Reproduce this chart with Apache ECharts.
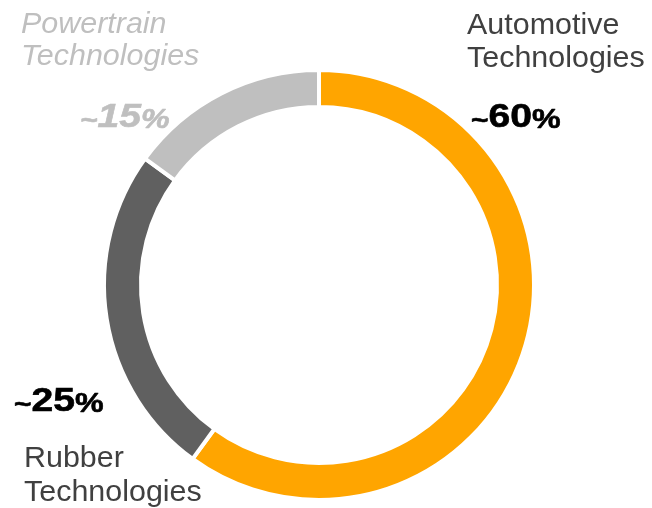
<!DOCTYPE html>
<html>
<head>
<meta charset="utf-8">
<script src="https://cdn.jsdelivr.net/npm/echarts@6/dist/echarts.min.js"></script>
<style>
html,body{margin:0;padding:0;background:#fff;}
#c{width:652px;height:508px;}
</style>
</head>
<body>
<div id="c"></div>
<script>
// Data
const categories = ['Automotive Technologies', 'Rubber Technologies', 'Powertrain Technologies'];
const nameLines = [['Automotive', 'Technologies'], ['Rubber', 'Technologies'], ['Powertrain', 'Technologies']];
const shares = [60, 25, 15];
const shareText = ['60', '25', '15'];
const colors = ['#FFA500', '#606060', '#BFBFBF'];

const chart = echarts.init(document.getElementById('c'), null, {renderer: 'canvas'});

function pctRich(sizes, italic, color) {
  const fs = italic ? 'italic' : 'normal';
  const c = 6;
  const mk = (f) => ({fontSize: f, fontWeight: 'bold', fontStyle: fs, fontFamily: 'Liberation Sans, Arial', fill: color, stroke: color, lineWidth: 0.6, lineHeight: 2 * (c + 0.3465 * f), verticalAlign: 'bottom'});
  return {t: mk(sizes[0]), n: mk(sizes[1]), p: mk(sizes[2])};
}

function nameText(i, x, y, color, italic, lh) {
  return {
    type: 'text', x: x, y: y, scaleX: 1.05,
    style: {
      text: nameLines[i].join('\n'),
      fontSize: 29, fontFamily: 'Liberation Sans, Arial', fontStyle: italic ? 'italic' : 'normal',
      fill: color, lineHeight: lh, align: 'left', verticalAlign: 'top'
    },
    silent: true
  };
}

function pctText(i, x, y, sizes, italic, color) {
  return {
    type: 'text', x: x, y: y, scaleX: 1.15,
    style: {
      text: '{t|~}{n|' + shareText[i] + '}{p|%}',
      rich: pctRich(sizes, italic, color),
      align: 'left', verticalAlign: 'top'
    },
    silent: true
  };
}

chart.setOption({
  animation: false,
  backgroundColor: '#ffffff',
  series: [{
    type: 'pie',
    center: [319, 285],
    radius: [178, 215],
    startAngle: 90,
    clockwise: true,
    label: {show: false},
    labelLine: {show: false},
    emphasis: {disabled: true},
    itemStyle: {borderColor: '#ffffff', borderWidth: 4},
    data: categories.map((n, i) => ({name: n, value: shares[i], itemStyle: {color: colors[i]}}))
  }],
  graphic: [
    nameText(0, 467, 9, '#404040', false, 33),
    nameText(1, 24, 442, '#404040', false, 34),
    nameText(2, 21, 9, '#BFBFBF', true, 32),
    pctText(0, 471, 99, [26, 34, 28], false, '#000000'),
    pctText(1, 14, 383, [26, 34, 28], false, '#000000'),
    pctText(2, 80, 99, [26, 34, 28], true, '#BFBFBF')
  ]
});
</script>
</body>
</html>
